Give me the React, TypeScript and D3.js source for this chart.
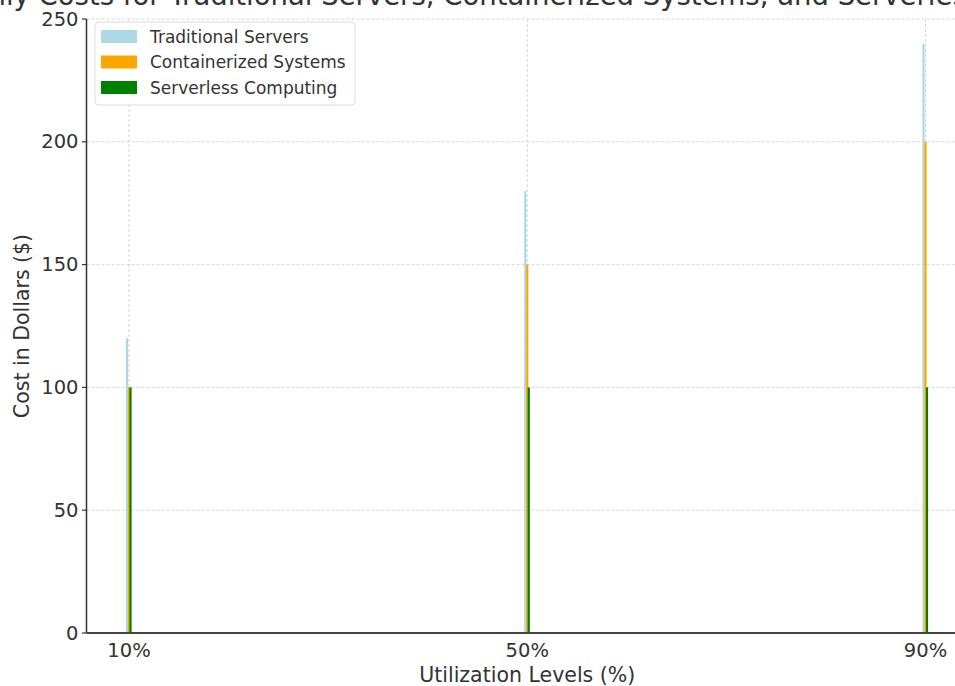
import React from "react";
import * as d3 from "d3";

// Utilization levels (x positions) and monthly cost per approach
const utilization = [10, 50, 90];
const utilizationLabels = ["10%", "50%", "90%"];
const traditionalCosts = [120, 180, 240];
const containerizedCosts = [100, 150, 200];
const serverlessCosts = [100, 100, 100];
const yTicks = [0, 50, 100, 150, 200, 250];

const seriesNames = ["Traditional Servers", "Containerized Systems", "Serverless Computing"];
const seriesColors = ["#add8e6", "#ffa500", "#008000"];

const W = 955;
const H = 686;
const margin = { left: 86.5, right: 968, top: 19, bottom: 633 };
const FONT = "DejaVu Sans, sans-serif";
const TEXT = "#333333";

export default function App() {
  const x = d3.scaleLinear().domain([5.73, 94.27]).range([margin.left, margin.right]);
  const y = d3.scaleLinear().domain([0, 250]).range([margin.bottom, margin.top]);

  const barWidth = 0.22;
  const offsets = [-0.2, 0, 0.15];
  const series = [traditionalCosts, containerizedCosts, serverlessCosts];
  const cx = (margin.left + margin.right) / 2;

  return (
    <svg
      width={W}
      height={H}
      style={{ position: "absolute", left: 0, top: 0, background: "#fff" }}
      fontFamily={FONT}
    >
      <rect x={0} y={0} width={W} height={H} fill="#fff" />

      {/* grid */}
      {yTicks.map((t) => (
        <line
          key={"gy" + t}
          x1={margin.left}
          x2={margin.right}
          y1={y(t)}
          y2={y(t)}
          stroke="#cccccc"
          strokeWidth={0.8}
          strokeDasharray="3,2"
        />
      ))}
      {utilization.map((u) => (
        <line
          key={"gx" + u}
          x1={x(u)}
          x2={x(u)}
          y1={margin.top}
          y2={margin.bottom}
          stroke="#cccccc"
          strokeWidth={0.8}
          strokeDasharray="3,2"
        />
      ))}

      {/* bars */}
      {series.map((vals, si) =>
        vals.map((v, i) => {
          const x0 = x(utilization[i] + offsets[si] - barWidth / 2);
          const x1 = x(utilization[i] + offsets[si] + barWidth / 2);
          return (
            <rect
              key={si + "-" + i}
              x={x0}
              y={y(v)}
              width={x1 - x0}
              height={y(0) - y(v)}
              fill={seriesColors[si]}
            />
          );
        })
      )}

      {/* spines */}
      <line x1={margin.left} x2={margin.left} y1={margin.top} y2={margin.bottom} stroke="#333" strokeWidth={1.5} />
      <line x1={margin.left} x2={margin.right} y1={margin.bottom} y2={margin.bottom} stroke="#444" strokeWidth={2} />

      {/* y ticks */}
      {yTicks.map((t) => (
        <g key={"yt" + t}>
          <line x1={margin.left - 4.5} x2={margin.left} y1={y(t)} y2={y(t)} stroke="#333" strokeWidth={1.2} />
          <text
            x={margin.left - 8}
            y={y(t)}
            textAnchor="end"
            dominantBaseline="central"
            fontSize={19.5}
            fill={TEXT}
          >
            {t}
          </text>
        </g>
      ))}

      {/* x tick labels */}
      {utilization.map((u, i) => (
        <text key={"xt" + u} x={x(u)} y={657} textAnchor="middle" fontSize={19.5} fill={TEXT}>
          {utilizationLabels[i]}
        </text>
      ))}

      {/* axis labels */}
      <text x={cx} y={682} textAnchor="middle" fontSize={20.5} fill={TEXT}>
        Utilization Levels (%)
      </text>
      <text
        transform={`translate(29, ${(margin.top + margin.bottom) / 2}) rotate(-90)`}
        textAnchor="middle"
        fontSize={20.5}
        fill={TEXT}
      >
        Cost in Dollars ($)
      </text>

      {/* title */}
      <text x={cx + 3} y={4.5} textAnchor="middle" fontSize={27.5} fill={TEXT}>
        Monthly Costs for Traditional Servers, Containerized Systems, and Serverless Computing
      </text>

      {/* legend */}
      <g>
        <rect x={95} y={22} width={260} height={83} rx={4} fill="#fff" fillOpacity={0.85} stroke="#dddddd" strokeWidth={1} />
        {seriesNames.map((name, i) => (
          <g key={name}>
            <rect x={101} y={30 + i * 25.5} width={36} height={13} fill={seriesColors[i]} />
            <text x={150} y={36.5 + i * 25.5} dominantBaseline="central" fontSize={17} fill={TEXT}>
              {name}
            </text>
          </g>
        ))}
      </g>
    </svg>
  );
}
